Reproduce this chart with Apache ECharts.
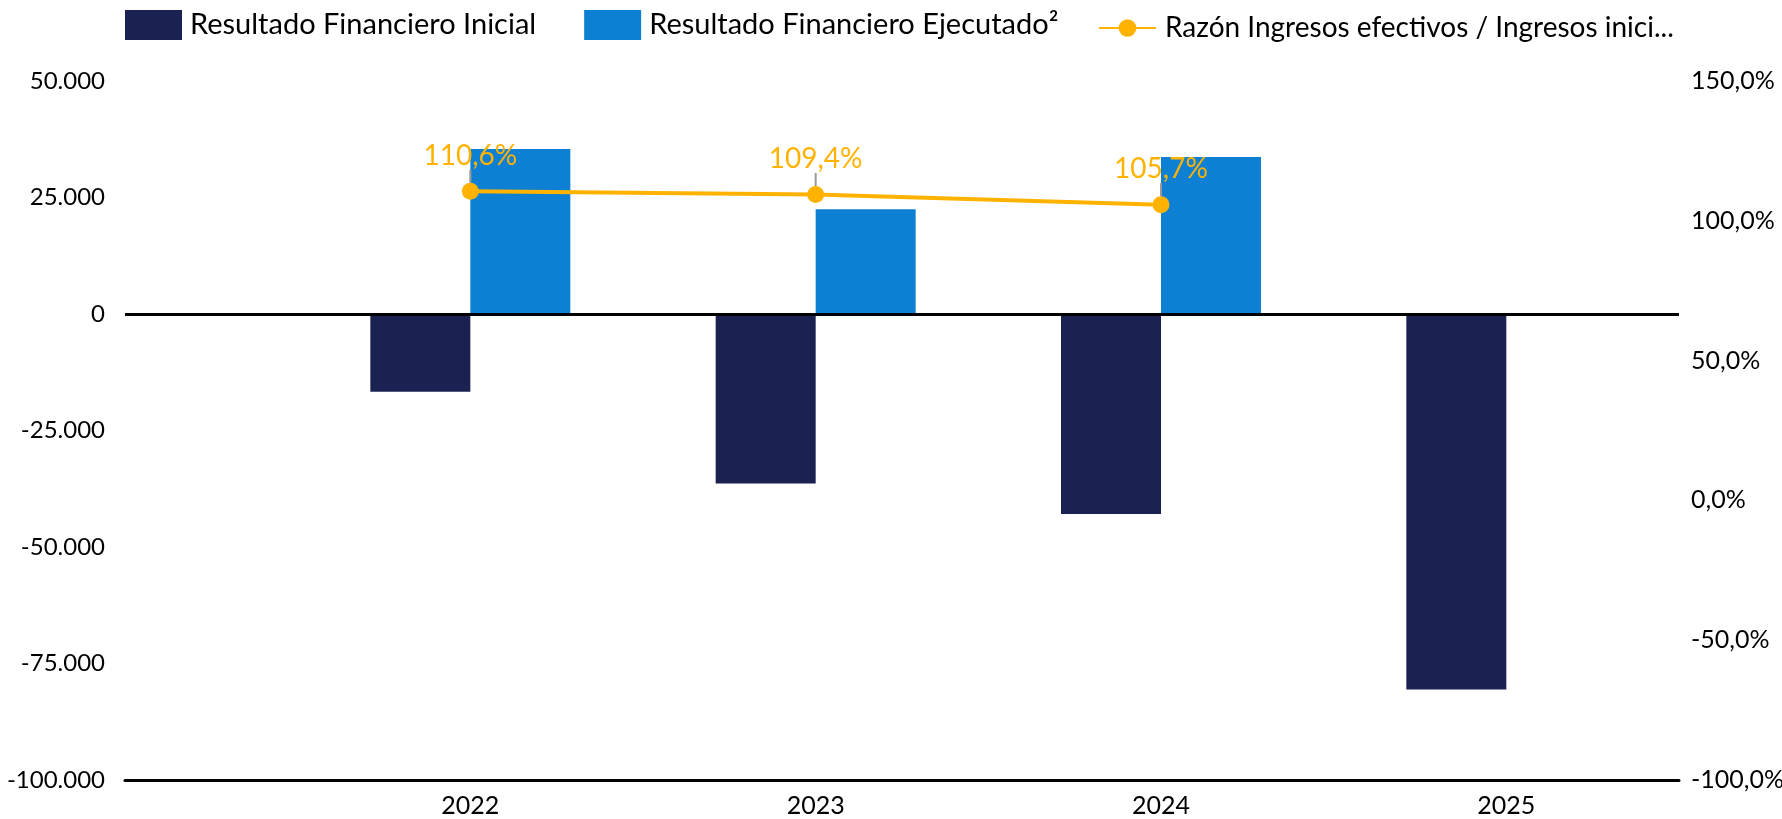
<!DOCTYPE html>
<html>
<head>
<meta charset="utf-8">
<script src="https://cdn.jsdelivr.net/npm/echarts@6/dist/echarts.min.js"></script>
<style>
html,body{margin:0;padding:0;background:#fff;}
#chart{width:1782px;height:819px;}
</style>
</head>
<body>
<div id="chart"></div>
<script>
const years = [2022, 2023, 2024, 2025];
const inicial = [-16700, -36400, -42900, -80600];
const ejecutado = [35400, 22500, 33700, null];
const razon = [110.6, 109.4, 105.7, null];
const seriesNames = ['Resultado Financiero Inicial', 'Resultado Financiero Ejecutado²', 'Razón Ingresos efectivos / Ingresos iniciales'];
const legendShown = ['Resultado Financiero Inicial', 'Resultado Financiero Ejecutado²', 'Razón Ingresos efectivos / Ingresos inici...'];

const FONT = 'Lato';
const pairs = (vals) => years.map((y, i) => [y, vals[i]]).filter(p => p[1] !== null);

const fmtThousands = (v) => {
  const s = Math.abs(v).toString().replace(/\B(?=(\d{3})+(?!\d))/g, '.');
  return (v < 0 ? '-' : '') + s;
};
const fmtPct = (v) => v.toFixed(1).replace('.', ',') + '%';
const legendFmt = (name) => legendShown[seriesNames.indexOf(name)];
const legendText = {fontFamily: FONT, fontSize: 29, color: '#000', padding: [0, 0, 0, 3]};
const legendText2 = {fontFamily: FONT, fontSize: 28, color: '#000', padding: [0, 0, 0, 4]};

const chart = echarts.init(document.getElementById('chart'), null, {renderer: 'canvas'});
chart.setOption({
  animation: false,
  backgroundColor: '#ffffff',
  textStyle: {fontFamily: FONT},
  legend: [
    {
      top: 10, left: 125, padding: 0,
      itemWidth: 57, itemHeight: 30, itemGap: 48,
      icon: 'rect',
      textStyle: legendText,
      formatter: legendFmt,
      data: [seriesNames[0], seriesNames[1]]
    },
    {
      top: 14, left: 1098, padding: 0,
      itemWidth: 57, itemHeight: 22, itemGap: 48,
      textStyle: legendText2,
      formatter: legendFmt,
      data: [seriesNames[2]]
    }
  ],
  grid: {left: 125, right: 103, top: 81, bottom: 39, outerBoundsMode: 'none', containLabel: false},
  xAxis: {
    type: 'value',
    min: 2021,
    max: 2025.5,
    interval: 1,
    axisLine: {show: true, onZero: false, lineStyle: {color: '#000', width: 3}},
    axisTick: {show: false},
    splitLine: {show: false},
    axisLabel: {
      fontFamily: FONT, fontSize: 25, color: '#000', margin: 13,
      showMaxLabel: false,
      formatter: (v) => years.indexOf(v) >= 0 ? String(v) : ''
    }
  },
  yAxis: [
    {
      type: 'value', min: -100000, max: 50000, interval: 25000,
      axisLine: {show: false}, axisTick: {show: false}, splitLine: {show: false},
      axisLabel: {fontFamily: FONT, fontSize: 24, color: '#000', margin: 20, formatter: fmtThousands}
    },
    {
      type: 'value', min: -100, max: 150, interval: 50,
      axisLine: {show: false}, axisTick: {show: false}, splitLine: {show: false},
      axisLabel: {fontFamily: FONT, fontSize: 25, color: '#000', margin: 12, formatter: fmtPct}
    }
  ],
  series: [
    {
      name: seriesNames[0], type: 'bar', barWidth: 100, barGap: '0%',
      itemStyle: {color: '#1B2150'},
      data: pairs(inicial),
      markLine: {
        silent: true, symbol: 'none', label: {show: false},
        lineStyle: {color: '#000', width: 3, type: 'solid'},
        data: [{yAxis: 0}]
      }
    },
    {
      name: seriesNames[1], type: 'bar', barWidth: 100, barGap: '0%',
      itemStyle: {color: '#0E80D3'},
      data: pairs(ejecutado)
    },
    {
      name: seriesNames[2], type: 'line', yAxisIndex: 1,
      symbol: 'circle', symbolSize: 17,
      lineStyle: {color: '#FFB300', width: 4},
      itemStyle: {color: '#FFB300'},
      data: pairs(razon),
      z: 5,
      label: {
        show: true, position: 'top', distance: 4,
        fontFamily: FONT, fontSize: 28, color: '#FFB300',
        formatter: (p) => fmtPct(p.value[1])
      },
      labelLayout: {dy: -9},
      labelLine: {show: true, lineStyle: {color: '#999999', width: 2}}
    }
  ]
});
</script>
</body>
</html>
